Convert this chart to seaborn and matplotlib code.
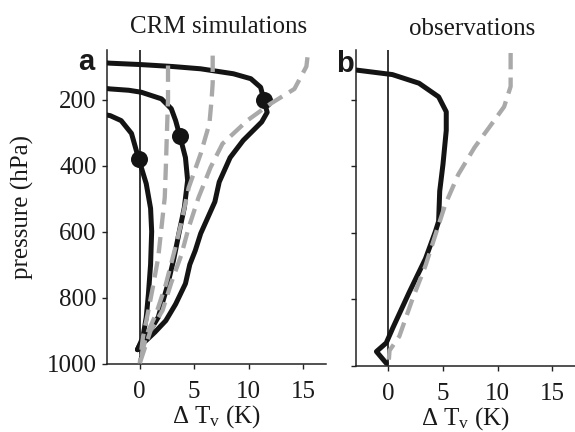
import matplotlib
matplotlib.use("Agg")
import matplotlib.pyplot as plt
import seaborn as sns
import pandas as pd

# ---------------- data ----------------
# Panel a: CRM simulations, black solid profiles
crm1_T = [-3.5, -2.7, 0.0, 3.0, 5.6, 8.6, 10.2, 11.1, 11.4, 11.7, 11.2, 9.5, 8.3, 7.3, 6.9, 5.6, 5.1, 4.6, 4.2, 3.3, 2.4, 1.4, 0.6, 0.0, -0.2]
crm1_p = [88, 90, 94, 100, 107, 122, 137, 163, 201, 239, 268, 324, 376, 450, 510, 606, 658, 700, 758, 820, 870, 905, 930, 945, 958]

crm2_T = [-3.5, -2.7, -1.0, 0.15, 2.0, 2.9, 3.3, 3.7, 4.2, 4.4, 4.1, 3.6, 3.1, 2.5, 1.7, 0.8, 0.1, -0.2]
crm2_p = [165, 168, 172, 178, 198, 228, 264, 312, 376, 445, 527, 606, 688, 770, 860, 909, 940, 958]

crm3_T = [-3.5, -2.7, -1.7, -0.75, -0.1, 0.6, 1.0, 1.1, 1.0, 0.8, 0.6, 0.3, -0.2]
crm3_p = [244, 249, 264, 303, 379, 455, 530, 600, 700, 790, 860, 920, 958]

# marked levels on CRM profiles
mark_T = [11.4, 3.7, -0.1]
mark_p = [201, 312, 379]

# Panel a: grey dashed reference profiles
ref1_T = [2.6, 2.6, 2.5, 2.4, 2.3, 2.0, 1.7, 1.2, 0.8, 0.3, 0.0]
ref1_p = [97, 200, 300, 406, 497, 588, 679, 770, 839, 920, 1000]

ref2_T = [6.7, 6.7, 6.6, 6.4, 5.6, 4.5, 3.8, 3.2, 2.4, 1.5, 0.6, 0.0]
ref2_p = [67, 150, 200, 273, 364, 467, 576, 658, 760, 850, 915, 1000]

ref3_T = [15.4, 15.3, 14.2, 12.0, 9.9, 7.6, 6.5, 5.4, 4.5, 3.8, 2.9, 2.1, 1.0, 0.0]
ref3_p = [72, 100, 168, 213, 263, 334, 406, 497, 588, 673, 755, 839, 900, 1000]

# Panel b: observations
obs_T = [-3.5, -2.8, 0.36, 2.8, 4.6, 5.3, 5.3, 5.0, 4.7, 4.6, 4.3, 3.4, 1.9, 0.4, -0.2, -1.1, -0.2]
obs_p = [108, 111, 124, 150, 191, 236, 292, 394, 475, 566, 597, 678, 780, 887, 932, 958, 993]

obsref_T = [11.2, 11.2, 10.6, 9.7, 7.9, 6.4, 5.2, 4.4, 3.4, 2.2, 1.0, 0.1, 0.0]
obsref_p = [59, 160, 221, 262, 343, 425, 516, 597, 699, 800, 912, 955, 1000]

x_ticks = [0, 5, 10, 15]
y_ticks = [200, 400, 600, 800, 1000]

# ---------------- style ----------------
sns.set_theme(style="ticks")
plt.rcParams["font.family"] = ["Liberation Serif", "DejaVu Serif"]
plt.rcParams["mathtext.fontset"] = "custom"
plt.rcParams["mathtext.rm"] = "Liberation Serif"
plt.rcParams["mathtext.it"] = "Liberation Serif:italic"

BLACK = "#141414"
GREY = "#a9a9a9"
FS = 18
LW_B = 3.6
LW_G = 3.1
DASH = (0, (3.8, 1.9))

fig = plt.figure(figsize=(5.75, 4.32), dpi=100)
W, H = 575.0, 432.0
ax_a = fig.add_axes([107 / W, 1 - 363.5 / H, (326 - 107) / W, (363.5 - 50) / H])
ax_b = fig.add_axes([355.7 / W, 1 - 365.5 / H, (575 - 355.7) / W, (365.5 - 50) / H])


def solid(ax, T, p):
    sns.lineplot(x=T, y=p, sort=False, estimator=None, ax=ax, color=BLACK,
                 linewidth=LW_B, solid_capstyle="round", solid_joinstyle="round", zorder=3)


def dashed(ax, T, p):
    sns.lineplot(x=T, y=p, sort=False, estimator=None, ax=ax, color=GREY,
                 linewidth=LW_G, linestyle=DASH, zorder=5)


for ax in (ax_a, ax_b):
    ax.axvline(0, color=BLACK, lw=1.2, zorder=2)

solid(ax_a, crm1_T, crm1_p)
solid(ax_a, crm2_T, crm2_p)
solid(ax_a, crm3_T, crm3_p)
sns.scatterplot(x=mark_T, y=mark_p, ax=ax_a, color=BLACK, s=150, edgecolor=BLACK,
                linewidth=0, zorder=4)
dashed(ax_a, ref1_T, ref1_p)
dashed(ax_a, ref2_T, ref2_p)
dashed(ax_a, ref3_T, ref3_p)

solid(ax_b, obs_T, obs_p)
dashed(ax_b, obsref_T, obsref_p)

for ax in (ax_a, ax_b):
    ax.set_xlim(-3, 17.1)
    ax.set_ylim(1000, 50)
    ax.set_xticks(x_ticks)
    ax.set_yticks(y_ticks)
    sns.despine(ax=ax)
    for s in ("left", "bottom"):
        ax.spines[s].set_linewidth(1.1)
        ax.spines[s].set_color("#222222")
    ax.tick_params(direction="out", length=3.5, width=1.0, color="#222222",
                   labelsize=FS, pad=4, labelcolor="#1a1a1a")
    ax.tick_params(axis="x", pad=9)
    ax.set_xlabel(r"$\Delta\ \mathrm{T}_{\mathrm{v}}$ (K)", fontsize=FS, labelpad=0,
                  color="#1a1a1a")
    ax.set_ylabel("")
    ax.set_facecolor("white")

ax_b.tick_params(axis="y", labelleft=False)
ax_a.set_ylabel("pressure (hPa)", fontsize=FS, labelpad=9, color="#1a1a1a")

fig.text(219 / W, 1 - 33 / H, "CRM simulations", fontsize=FS, ha="center",
         va="baseline", color="#1a1a1a")
fig.text(472 / W, 1 - 35 / H, "observations", fontsize=FS, ha="center",
         va="baseline", color="#1a1a1a")
fig.text(78 / W, 1 - 70 / H, "a", fontsize=21, fontweight="bold",
         family=["Liberation Sans", "DejaVu Sans"], va="baseline", color="#1a1a1a")
fig.text(336 / W, 1 - 72 / H, "b", fontsize=21, fontweight="bold",
         family=["Liberation Sans", "DejaVu Sans"], va="baseline", color="#1a1a1a")

fig.savefig("out.png", dpi=100, facecolor="white")
